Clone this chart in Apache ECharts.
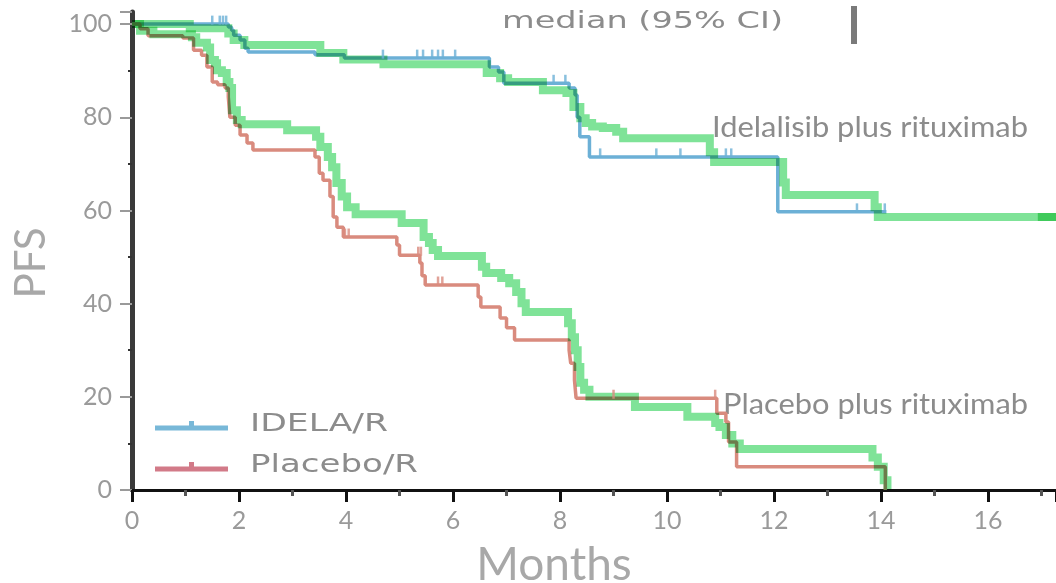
<!DOCTYPE html>
<html>
<head>
<meta charset="utf-8">
<script src="https://cdn.jsdelivr.net/npm/echarts@6/dist/echarts.min.js"></script>
<style>
  html, body { margin: 0; padding: 0; background: #ffffff; }
  #chart { width: 1056px; height: 583px; }
</style>
</head>
<body>
<div id="chart"></div>
<script>
// Progression-free survival (%) by month. Each pair is [month, PFS] holding from that month on.
const idelaR = [
  [0, 100], [1.8, 99.4], [1.86, 98.7], [1.9, 97.6], [2.02, 96.6], [2.11, 94.8], [2.17, 94],
  [3.42, 93.4], [3.97, 92.7], [6.68, 90.8], [6.85, 89.7], [6.95, 87.3], [8.17, 86.3],
  [8.28, 84.8], [8.32, 80], [8.37, 75.8], [8.55, 71.5], [12.07, 59.7], [14.1, 59.7]
];
const placeboR = [
  [0, 100], [0.15, 99], [0.3, 97.5], [0.95, 97], [1.15, 94.4], [1.3, 93.3], [1.4, 90.8],
  [1.5, 87.6], [1.6, 87], [1.74, 86.3], [1.8, 84.4], [1.83, 80], [1.93, 78.3], [2.02, 76.2],
  [2.15, 74.5], [2.26, 73], [3.42, 71.5], [3.5, 68], [3.57, 66.5], [3.7, 63], [3.76, 58.6],
  [3.83, 56.4], [3.95, 54.3], [4.95, 52.6], [5.0, 50.4], [5.38, 48.7], [5.42, 46], [5.48, 44],
  [6.47, 41.4], [6.52, 39.3], [6.88, 36.9], [7.0, 34.8], [7.15, 32.2], [8.17, 30], [8.2, 27.2],
  [8.27, 23.6], [8.3, 19.7], [10.93, 16.5], [11.1, 14.6], [11.15, 10.3], [11.3, 5], [14.08, 0]
];
// Reconstructed curves drawn over the published ones
const idelaRecon = [
  [0, 100], [1.08, 99.1], [1.8, 98], [1.9, 96.6], [2.1, 95.5], [3.52, 93.8], [3.95, 92.4],
  [4.7, 91.4], [6.63, 89.5], [6.88, 88.4], [7.03, 87.6], [7.68, 85.8], [8.12, 85.2],
  [8.25, 82.2], [8.38, 79.8], [8.48, 78.8], [8.6, 78], [8.8, 77.7], [9.05, 76.9], [9.18, 75.5],
  [10.8, 72.5], [10.88, 70.4], [12.17, 66], [12.22, 63.3], [13.88, 60.7], [13.94, 58.6],
  [17.27, 58.6]
];
const placeboRecon = [
  [0, 100], [0.15, 98.6], [0.4, 97.8], [1.12, 97.2], [1.2, 96], [1.4, 95], [1.46, 92.3],
  [1.55, 91.6], [1.59, 90.1], [1.68, 89.5], [1.77, 87.6], [1.82, 86.3], [1.87, 81.5],
  [1.96, 79.4], [2.05, 78.5], [2.9, 77.2], [3.44, 75.8], [3.52, 73.6], [3.66, 71.5],
  [3.74, 69.3], [3.82, 65.9], [3.92, 63], [4.02, 60.7], [4.18, 59.2], [5.04, 57.3],
  [5.45, 54.3], [5.55, 53], [5.62, 51.5], [5.72, 50.2], [6.54, 47.9], [6.62, 46.6],
  [6.9, 45.5], [7.05, 44.4], [7.18, 42.5], [7.28, 40.1], [7.36, 38.2], [8.15, 35.8],
  [8.22, 32.8], [8.28, 30], [8.33, 26.4], [8.38, 23], [8.45, 21.5], [8.55, 20], [9.4, 17.8],
  [10.38, 15.7], [10.9, 14.4], [10.98, 13.5], [11.1, 11.8], [11.22, 10], [11.36, 8.8],
  [13.84, 7], [13.94, 5], [14.05, 2.1], [14.12, 0]
];
const reconTail = [[16.93, 58.6], [17.27, 58.6]];
// Censored observations
const idelaCensored = [
  [1.5, 100], [1.64, 100], [1.7, 100], [1.76, 100], [4.69, 92.7], [5.33, 92.7], [5.44, 92.7],
  [5.61, 92.7], [5.72, 92.7], [5.81, 92.7], [6.04, 92.7], [7.88, 87.3], [8.1, 87.3],
  [8.75, 71.5], [9.8, 71.5], [10.25, 71.5], [11.1, 71.5], [11.2, 71.5], [13.55, 59.7], [14.07, 59.7]
];
const placeboCensored = [
  [3.98, 54.3], [4.05, 54.3], [5.35, 50.4], [5.4, 50.4], [5.72, 44], [5.8, 44], [9.0, 19.7], [10.9, 19.7]
];
const xTickLabels = [0, 2, 4, 6, 8, 10, 12, 14, 16];
const yTickLabels = [0, 20, 40, 60, 80, 100];
const seriesNames = ['IDELA/R', 'Placebo/R'];
const curveNotes = ['Idelalisib plus rituximab', 'Placebo plus rituximab'];

const BLUE = '#6cb0d6';
const RED = '#d98b7e';
const BLUE_KEY = '#78b8d8';
const RED_KEY = '#d27a88';
const GREEN = '#7fe398';
const GREY_TEXT = '#8c8c8c';
const LABEL_FONT = 'Lato, "Open Sans", sans-serif';
const KEY_FONT = '"DejaVu Sans", Verdana, sans-serif';

// Horizontal stretch needed for a string to span a given width
const measureCtx = document.createElement('canvas').getContext('2d');
function stretch(text, font, width) {
  measureCtx.font = font;
  return width / measureCtx.measureText(text).width;
}

function staircase(points, api) {
  const out = [];
  points.forEach((p, i) => {
    if (i > 0) out.push(api.coord([p[0], points[i - 1][1]]));
    out.push(api.coord(p));
  });
  return out;
}

function reconStroke(points, api) {
  return {
    type: 'polyline',
    shape: { points: staircase(points, api) },
    style: { stroke: GREEN, lineWidth: 8, fill: null, lineJoin: 'miter', lineCap: 'butt', blend: 'multiply' }
  };
}

const chart = echarts.init(document.getElementById('chart'), null, { renderer: 'canvas' });

function textEl(text, x, y, fontSize, family, fill, width) {
  const font = fontSize + 'px ' + family;
  return {
    type: 'text', x: x, y: y, scaleX: stretch(text, font, width), silent: true,
    style: { text: text, font: font, fill: fill, textAlign: 'left', textVerticalAlign: 'middle' }
  };
}

function keyEl(color, y, name, textWidth) {
  return {
    type: 'group', silent: true,
    children: [
      { type: 'rect', shape: { x: 155, y: y - 2.5, width: 73, height: 5 }, style: { fill: color } },
      { type: 'rect', shape: { x: 189, y: y - 7, width: 5, height: 5 }, style: { fill: color } },
      textEl(name, 250, y - 3, 24, KEY_FONT, GREY_TEXT, textWidth)
    ]
  };
}

chart.setOption({
  animation: false,
  backgroundColor: '#ffffff',
  grid: { left: 132, right: 0, top: 12, bottom: 93, containLabel: false, outerBoundsMode: 'none' },
  xAxis: {
    type: 'value', min: 0, max: 17.27, interval: 2,
    name: 'Months', nameLocation: 'middle', nameGap: 52, nameMoveOverlap: false,
    nameTextStyle: { fontFamily: LABEL_FONT, fontSize: 46, color: '#a8a8a8', padding: [0, 80, 0, 0] },
    axisLine: { onZero: false, lineStyle: { color: '#111111', width: 3 } },
    axisTick: { length: 12, lineStyle: { color: '#111111', width: 3 } },
    minorTick: { show: true, splitNumber: 2, length: 6, lineStyle: { color: '#555555', width: 3 } },
    axisLabel: {
      fontFamily: LABEL_FONT, fontSize: 25, color: '#9a9a9a', margin: 18,
      formatter: v => (xTickLabels.indexOf(v) >= 0 ? String(v) : '')
    },
    splitLine: { show: false }
  },
  yAxis: {
    type: 'value', min: 0, max: 102.6, interval: 20,
    name: 'PFS', nameLocation: 'middle', nameGap: 80, nameMoveOverlap: false,
    nameTextStyle: { fontFamily: LABEL_FONT, fontSize: 42, color: '#a8a8a8', padding: [0, 24, 0, 0] },
    axisLine: { lineStyle: { color: '#3a3a3a', width: 5 } },
    axisTick: { length: 12, lineStyle: { color: '#9a9a9a', width: 2 } },
    minorTick: { show: true, splitNumber: 2, length: 4, lineStyle: { color: '#333333', width: 2 } },
    axisLabel: {
      fontFamily: LABEL_FONT, fontSize: 25, color: '#9a9a9a', margin: 20,
      formatter: v => (yTickLabels.indexOf(v) >= 0 ? String(v) : '')
    },
    splitLine: { show: false }
  },
  series: [
    {
      name: seriesNames[0], type: 'line', step: 'end', data: idelaR, symbol: 'none', z: 2,
      lineStyle: { color: BLUE, width: 3.5 }, itemStyle: { color: BLUE }
    },
    {
      name: seriesNames[1], type: 'line', step: 'end', data: placeboR, symbol: 'none', z: 2,
      lineStyle: { color: RED, width: 3.5 }, itemStyle: { color: RED }
    },
    {
      type: 'custom', z: 3, silent: true, data: [[0, 100]],
      renderItem: (params, api) => ({
        type: 'group',
        children: [
          reconStroke(idelaRecon, api),
          reconStroke(placeboRecon, api),
          reconStroke(reconTail, api)
        ]
      })
    },
    {
      type: 'scatter', data: idelaCensored, z: 4, silent: true,
      symbol: 'rect', symbolSize: [2.5, 9], symbolOffset: [0, -4], itemStyle: { color: BLUE }
    },
    {
      type: 'scatter', data: placeboCensored, z: 4, silent: true,
      symbol: 'rect', symbolSize: [2.5, 9], symbolOffset: [0, -4], itemStyle: { color: RED }
    }
  ],
  graphic: [
    textEl('median (95% CI)', 502, 22, 23, KEY_FONT, GREY_TEXT, 281),
    { type: 'rect', silent: true, shape: { x: 851, y: 6, width: 6, height: 38 }, style: { fill: '#7a7a7a' } },
    textEl(curveNotes[0], 712, 128, 28, LABEL_FONT, GREY_TEXT, 316),
    textEl(curveNotes[1], 723, 405, 28, LABEL_FONT, GREY_TEXT, 305),
    keyEl(BLUE_KEY, 428, seriesNames[0], 138),
    keyEl(RED_KEY, 469, seriesNames[1], 168)
  ]
});

// The reconstructed strokes multiply onto whatever lies beneath them
const zr = chart.getZr();
zr.storage.getDisplayList(true).forEach(el => {
  if (el.style && el.style.stroke === GREEN) {
    el.style.blend = 'multiply';
    el.markRedraw();
  }
});
zr.refreshImmediately();
</script>
</body>
</html>
